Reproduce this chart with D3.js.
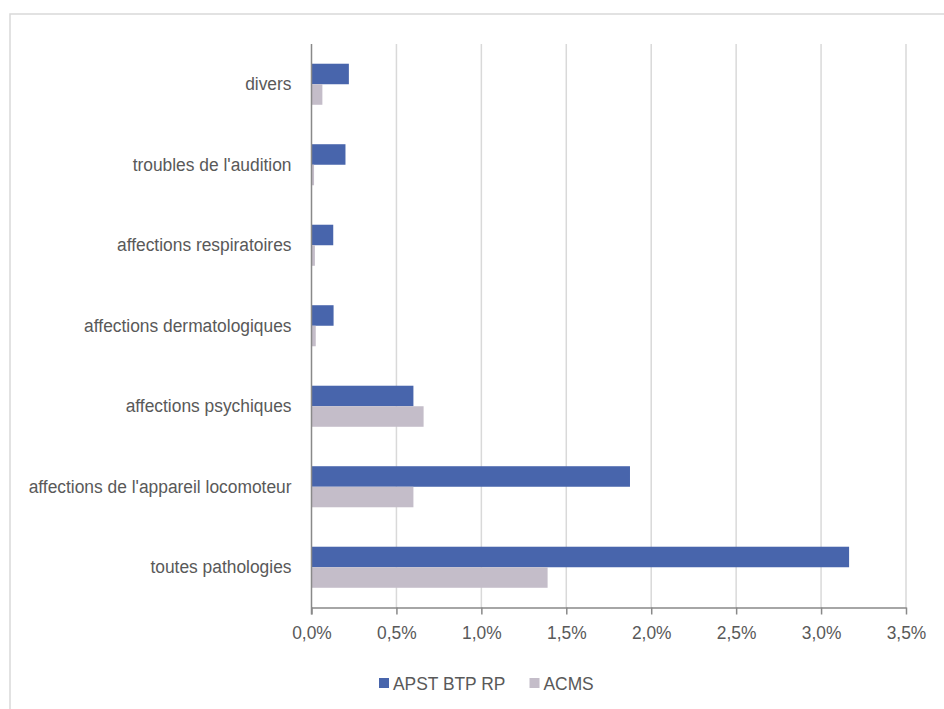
<!DOCTYPE html>
<html><head><meta charset="utf-8">
<script src="https://cdn.jsdelivr.net/npm/d3@7"></script>
<style>
html,body{margin:0;padding:0;background:#fff;}
svg{display:block;}
</style></head>
<body>
<svg id="chart" width="944" height="709"></svg>
<script>
const categories = ["divers","troubles de l'audition","affections respiratoires","affections dermatologiques","affections psychiques","affections de l'appareil locomoteur","toutes pathologies"];
const seriesNames = ["APST BTP RP","ACMS"];
const apstValues = [0.0022,0.0020,0.00128,0.0013,0.0060,0.01875,0.03165];
const acmsValues = [0.00064,0.00015,0.0002,0.00025,0.0066,0.0060,0.0139];
const xTicks = [0,0.005,0.01,0.015,0.02,0.025,0.03,0.035];
const colors = ["#4865ac","#c4bdc9"];

(function(){
const svg = d3.select("#chart");
const W = 944, H = 709;
const FONT = "'Liberation Sans', Arial, sans-serif";
const FS = 19;
const SX = 0.915;
const textColor = "#595959";

svg.append("rect").attr("x",10).attr("y",14).attr("width",W).attr("height",H)
  .attr("fill","none").attr("stroke","#d9d9d9").attr("stroke-width",1.5);

const pL = 311.5, pR = 906, pT = 44, pB = 607.5;
const x = d3.scaleLinear().domain([0,0.035]).range([pL,pR]);
const y = d3.scaleBand().domain(categories).range([pT,pB]).paddingInner(0.49).paddingOuter(0.245);
const ySub = d3.scaleBand().domain(seriesNames).range([0,y.bandwidth()]);

svg.append("g").selectAll("line").data(xTicks.slice(1)).join("line")
  .attr("x1",d=>x(d)).attr("x2",d=>x(d)).attr("y1",pT).attr("y2",pB)
  .attr("stroke","#d9d9d9").attr("stroke-width",1.5);

const data = categories.map((c,i)=>({cat:c, vals:[apstValues[i],acmsValues[i]]}));
const g = svg.append("g");
data.forEach(d=>{
  seriesNames.forEach((s,j)=>{
    g.append("rect")
      .attr("x",x(0)).attr("y",y(d.cat)+ySub(s))
      .attr("width",x(d.vals[j])-x(0)).attr("height",ySub.bandwidth())
      .attr("fill",colors[j]);
  });
});

const fmt = d=>d3.format(".1f")(d*100).replace(".",",")+"%";
const xAxis = svg.append("g").attr("transform",`translate(0,${pB})`)
  .call(d3.axisBottom(x).tickValues(xTicks).tickFormat(fmt).tickSize(7).tickPadding(11).tickSizeOuter(0));
xAxis.select(".domain").attr("stroke","#898989").attr("stroke-width",1.5);
xAxis.selectAll(".tick line").attr("stroke","#898989").attr("stroke-width",1.5);
xAxis.selectAll("text").attr("font-family",FONT).attr("font-size",FS).attr("fill",textColor)
  .attr("transform",`scale(${SX},1)`);

const yAxis = svg.append("g").attr("transform",`translate(${pL},0)`)
  .call(d3.axisLeft(y).tickSize(0).tickPadding(20/SX));
yAxis.select(".domain").attr("stroke","#898989").attr("stroke-width",1.5)
  .attr("d",`M0,${pT}V${pB+7}`);
yAxis.selectAll("text").attr("font-family",FONT).attr("font-size",FS).attr("fill",textColor)
  .attr("transform",`scale(${SX},1)`);

const legendItems = [{name:seriesNames[0],x:379,c:colors[0]},{name:seriesNames[1],x:529.5,c:colors[1]}];
const lg = svg.append("g");
legendItems.forEach(it=>{
  lg.append("rect").attr("x",it.x).attr("y",678).attr("width",10).attr("height",10).attr("fill",it.c);
  lg.append("g").attr("transform",`translate(${it.x+14},683) scale(${SX},1)`)
    .append("text").attr("dy","0.35em")
    .attr("font-family",FONT).attr("font-size",FS).attr("fill",textColor).text(it.name);
});
})();
</script>
</body></html>
